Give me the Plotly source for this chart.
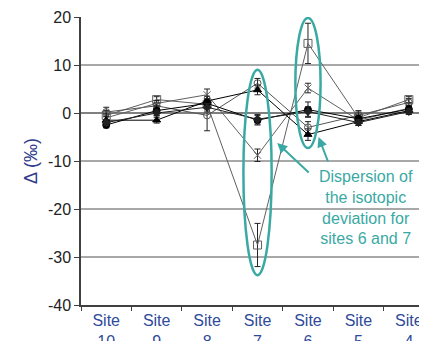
import plotly.graph_objects as go

sites = ["Site<br>10", "Site<br>9", "Site<br>8", "Site<br>7", "Site<br>6", "Site<br>5", "Site<br>4"]
y_ticks = [-40, -30, -20, -10, 0, 10, 20]
y_tick_text = ["-40", "-30", "-20", "-10", "0", "10", "20"]

series_a = [-0.5, 2.8, 1.8, -27.5, 14.5, -1.0, 2.8]
err_a = [1.0, 0.6, 1.0, 4.5, 4.2, 1.2, 0.6]
series_b = [0.2, 1.5, -0.5, 6.2, -3.0, -0.5, 2.2]
err_b = [1.0, 0.6, 3.2, 1.0, 1.2, 1.0, 0.8]
series_c = [-1.0, 2.0, 3.8, -8.8, 5.2, -1.5, 1.0]
err_c = [0.8, 0.6, 1.2, 1.3, 1.0, 0.8, 0.6]
series_d = [-1.5, -1.5, 2.5, 4.8, -4.5, -1.8, 0.5]
err_d = [0.8, 0.6, 1.0, 1.0, 1.2, 0.8, 0.8]
series_e = [-2.5, 0.5, 2.0, -1.5, 0.7, -1.2, 0.8]
err_e = [0.6, 1.0, 1.0, 1.0, 1.6, 0.8, 0.8]
series_f = [-2.0, 0.0, 1.2, -1.3, 0.3, -2.0, 0.3]
err_f = [0.6, 0.6, 0.8, 1.0, 1.0, 0.6, 0.6]

styles = [
    (series_a, err_a, "square-open", "#606060", 8),
    (series_b, err_b, "circle-open", "#555555", 7),
    (series_c, err_c, "x-thin-open", "#606060", 7),
    (series_d, err_d, "triangle-up", "#000000", 7),
    (series_e, err_e, "circle", "#000000", 7),
    (series_f, err_f, "diamond", "#202020", 6),
]

fig = go.Figure()
for vals, errs, sym, col, sz in styles:
    fig.add_trace(go.Scatter(
        x=sites, y=vals, mode="lines+markers",
        line=dict(color=col, width=1),
        marker=dict(symbol=sym, size=sz, color=col, line=dict(color=col, width=1)),
        error_y=dict(type="data", array=errs, visible=True, color="#222222", thickness=1, width=3),
        showlegend=False,
    ))

teal = "#3aa9a4"
fig.add_shape(type="circle", xref="x", yref="y", x0=2.72, x1=3.28, y0=-33.8, y1=9.0,
              line=dict(color=teal, width=2.5))
fig.add_shape(type="circle", xref="x", yref="y", x0=3.75, x1=4.25, y0=-7.3, y1=19.8,
              line=dict(color=teal, width=2.5))

fig.add_annotation(x=3.39, y=-6.25, xref="x", yref="y", text="", showarrow=True,
                   ax=33, ay=31, arrowhead=2, arrowsize=1, arrowwidth=2, arrowcolor=teal)
fig.add_annotation(x=4.21, y=-5.0, xref="x", yref="y", text="", showarrow=True,
                   ax=10, ay=26, arrowhead=2, arrowsize=1, arrowwidth=2, arrowcolor=teal)
fig.add_annotation(x=5.16, y=-19.6, xref="x", yref="y",
                   text="Dispersion of<br>the isotopic<br>deviation for<br>sites 6 and 7",
                   showarrow=False, xanchor="center", yanchor="middle", align="center",
                   font=dict(family="Liberation Sans, Arial, sans-serif", size=16, color=teal))

fig.update_layout(
    width=419, height=333,
    margin=dict(l=73, r=0, t=9, b=36),
    paper_bgcolor="white", plot_bgcolor="white",
    font=dict(family="Liberation Sans, Arial, sans-serif"),
)
fig.update_xaxes(
    type="category", categoryorder="array", categoryarray=sites,
    range=[-0.5, 6.36], showgrid=False, showline=True, linecolor="#404040", linewidth=1.5,
    ticks="outside", tickson="boundaries", ticklen=4, tickcolor="#404040",
    tickfont=dict(size=16, color="#2e4a9a"), automargin=False,
)
fig.update_yaxes(
    range=[-40, 20], tickvals=y_ticks, ticktext=y_tick_text,
    showgrid=True, gridcolor="#a8a8a8", gridwidth=1.5,
    zeroline=True, zerolinecolor="#808080", zerolinewidth=1.5,
    showline=True, linecolor="#404040", linewidth=1.5,
    ticks="outside", ticklen=5, tickcolor="#404040",
    tickfont=dict(size=16, color="#222222"), automargin=False,
    title=dict(text="Δ (‰)", font=dict(size=18, color="#2e3a8a"), standoff=6),
)

fig.write_html("out.html")
